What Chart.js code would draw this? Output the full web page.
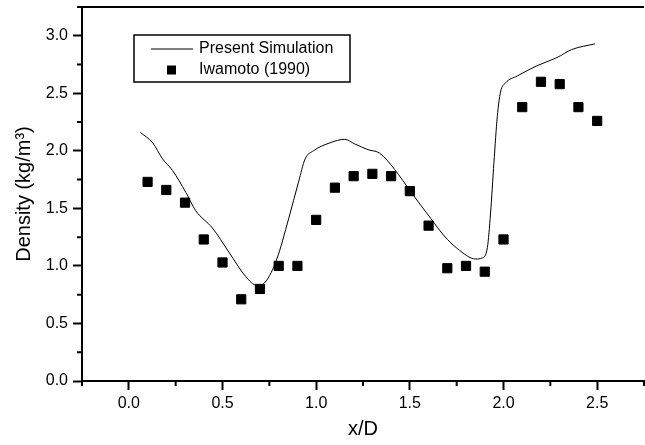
<!DOCTYPE html>
<html>
<head>
<meta charset="utf-8">
<script src="https://cdn.jsdelivr.net/npm/chart.js@4"></script>
<style>
  html, body { margin: 0; background: #fff; overflow: hidden; }
  #wrap { width: 645px; height: 445px; }
  canvas { display: block; }
</style>
</head>
<body>
<div id="wrap"><canvas id="chart"></canvas></div>
<script>
// Present Simulation (line)
const simX = [0.062, 0.127, 0.18, 0.233, 0.304, 0.357, 0.446, 0.534, 0.623, 0.684,
              0.729, 0.79, 0.853, 0.906, 0.941, 0.985, 1.074, 1.153, 1.206, 1.277,
              1.339, 1.418, 1.507, 1.613, 1.684, 1.754, 1.852, 1.887, 1.914, 1.931,
              1.949, 1.967, 1.984, 2.011, 2.073, 2.179, 2.285, 2.364, 2.488];
const simY = [2.16, 2.07, 1.93, 1.83, 1.64, 1.48, 1.33, 1.12, 0.91, 0.83,
              0.86, 1.06, 1.41, 1.73, 1.93, 2.00, 2.07, 2.10, 2.06, 2.01,
              1.98, 1.84, 1.64, 1.41, 1.26, 1.15, 1.06, 1.07, 1.16, 1.46,
              1.90, 2.30, 2.51, 2.59, 2.65, 2.74, 2.81, 2.88, 2.93];

// Iwamoto (1990) (squares)
const expX = [0.1, 0.2, 0.3, 0.4, 0.5, 0.6, 0.7, 0.8, 0.9, 1.0, 1.1, 1.2, 1.3,
              1.4, 1.5, 1.6, 1.7, 1.8, 1.9, 2.0, 2.1, 2.2, 2.3, 2.4, 2.5];
const expY = [1.73, 1.66, 1.55, 1.23, 1.03, 0.71, 0.80, 1.00, 1.00, 1.40, 1.68, 1.78, 1.80,
              1.78, 1.65, 1.35, 0.98, 1.00, 0.95, 1.23, 2.38, 2.60, 2.58, 2.38, 2.26];

const seriesNames = ["Present Simulation", "Iwamoto (1990)"];
const xTicks = [0, 0.5, 1.0, 1.5, 2.0, 2.5];
const yTicks = [0, 0.5, 1.0, 1.5, 2.0, 2.5, 3.0];
const xMinor = [-0.25, 0.25, 0.75, 1.25, 1.75, 2.25, 2.75];
const yMinor = [0.25, 0.75, 1.25, 1.75, 2.25, 2.75, 3.25];

const FONT = "'Liberation Sans', Arial, sans-serif";

// minor ticks, top frame line and the boxed legend
const extras = {
    id: 'extras',
    afterDraw(chart) {
        const ctx = chart.ctx;
        const a = chart.chartArea;
        const xs = chart.scales.x, ys = chart.scales.y;
        ctx.save();
        ctx.strokeStyle = '#000';
        ctx.lineWidth = 2;
        ctx.beginPath();
        xMinor.forEach(v => {
            const px = xs.getPixelForValue(v);
            ctx.moveTo(px, a.bottom); ctx.lineTo(px, a.bottom + 5);
        });
        yMinor.forEach(v => {
            const py = ys.getPixelForValue(v);
            ctx.moveTo(a.left, py); ctx.lineTo(a.left - 5, py);
        });
        ctx.moveTo(a.left, a.top); ctx.lineTo(a.right, a.top);
        ctx.stroke();

        // legend
        const bx = a.left + 52, by = a.top + 28;
        ctx.lineWidth = 1.5;
        ctx.strokeRect(bx, by, 216, 47);
        ctx.lineWidth = 1;
        ctx.beginPath();
        ctx.moveTo(bx + 17, by + 14); ctx.lineTo(bx + 59, by + 14);
        ctx.stroke();
        ctx.fillStyle = '#000';
        ctx.fillRect(bx + 33, by + 30.5, 9, 9);
        ctx.font = '16px ' + FONT;
        ctx.textBaseline = 'middle';
        ctx.fillText(seriesNames[0], bx + 65, by + 14);
        ctx.fillText(seriesNames[1], bx + 65, by + 35);
        ctx.restore();
    }
};

function noPad(s) {
    s.paddingTop = 0; s.paddingBottom = 0;
    s.paddingLeft = 0; s.paddingRight = 0;
}

const ctx = document.getElementById('chart').getContext('2d');
new Chart(ctx, {
    type: 'scatter',
    data: {
        datasets: [{
            label: seriesNames[0],
            data: simX.map((x, i) => ({x: x, y: simY[i]})),
            showLine: true,
            borderColor: '#000',
            borderWidth: 1,
            pointRadius: 0,
            cubicInterpolationMode: 'monotone'
        }, {
            label: seriesNames[1],
            data: expX.map((x, i) => ({x: x, y: expY[i]})),
            showLine: false,
            pointStyle: 'rect',
            pointRadius: 6.5,
            pointBorderWidth: 1,
            pointBackgroundColor: '#000',
            pointBorderColor: '#000'
        }]
    },
    options: {
        responsive: true,
        maintainAspectRatio: false,
        animation: false,
        layout: { autoPadding: false, padding: { top: 7, right: 1 } },
        plugins: { legend: { display: false }, tooltip: { enabled: false } },
        scales: {
            x: {
                type: 'linear',
                min: -0.25, max: 2.75,
                afterBuildTicks: s => { s.ticks = xTicks.map(v => ({value: v})); },
                afterFit: s => { s.height = 64; noPad(s); },
                ticks: {
                    color: '#000', padding: 4,
                    font: { family: FONT, size: 16 },
                    callback: v => v.toFixed(1)
                },
                grid: { drawOnChartArea: false, tickLength: 9, tickWidth: 2, tickColor: '#000' },
                border: { color: '#000', width: 2 },
                title: {
                    display: true, text: 'x/D', color: '#000',
                    font: { family: FONT, size: 20 },
                    padding: { top: 0, bottom: 4 }
                }
            },
            y: {
                min: 0, max: 3.25,
                afterBuildTicks: s => { s.ticks = yTicks.map(v => ({value: v})); },
                afterFit: s => { s.width = 82; noPad(s); },
                ticks: {
                    color: '#000', padding: 5,
                    font: { family: FONT, size: 16 },
                    callback: v => v.toFixed(1)
                },
                grid: { drawOnChartArea: false, tickLength: 9, tickWidth: 2, tickColor: '#000' },
                border: { color: '#000', width: 2 },
                title: {
                    display: true, text: 'Density (kg/m³)', color: '#000',
                    font: { family: FONT, size: 20 },
                    padding: { top: 12, bottom: 0 }
                }
            }
        }
    },
    plugins: [extras]
});
</script>
</body>
</html>
